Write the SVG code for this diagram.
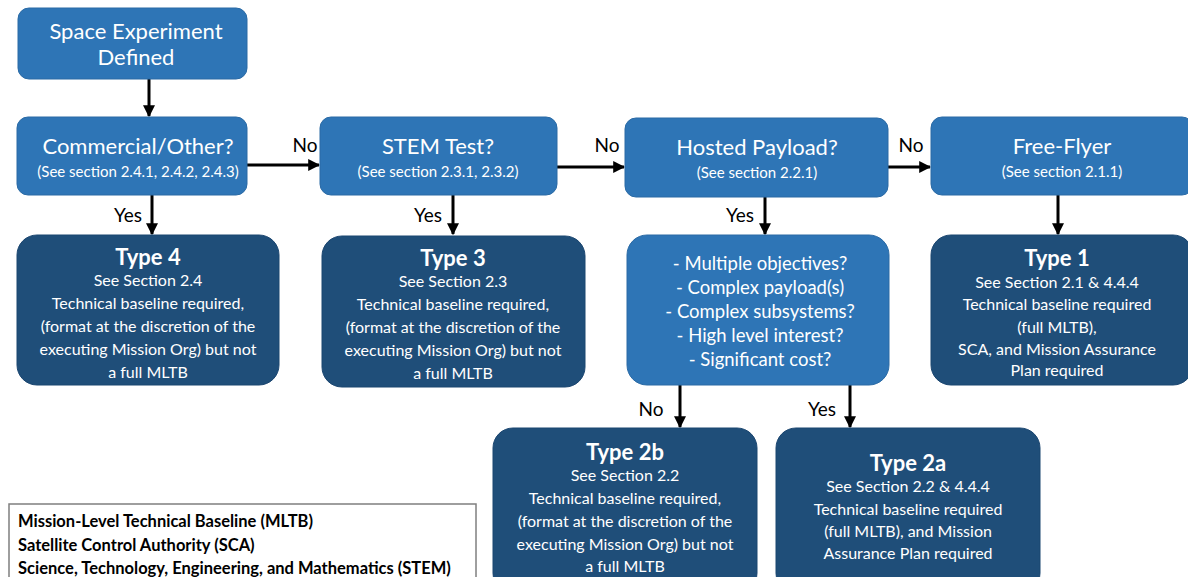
<svg xmlns="http://www.w3.org/2000/svg" width="1188" height="577" viewBox="0 0 1188 577">
<defs>
<marker id="ah" viewBox="0 0 10 10" refX="9" refY="5" markerWidth="4" markerHeight="4" orient="auto" markerUnits="strokeWidth">
<path d="M0,0 L10,5 L0,10 z" fill="#000"/>
</marker>
<style>
.lb{fill:#2E75B6;stroke:#2A6AA5;stroke-width:1}
.db{fill:#1F4E79;stroke:#1B4670;stroke-width:1}
text{font-family:Lato,"Open Sans","Liberation Sans",sans-serif;fill:#fff;text-anchor:middle}
.t1{font-size:22px}
.t2{font-size:15px}
.q{font-size:18.5px}
.h{font-size:22px;font-weight:bold}
.b{font-size:16px}
.lab{font-size:19px;fill:#000}
.leg{font-size:16.5px;font-weight:bold;fill:#000;text-anchor:start}
.c{stroke:#000;stroke-width:3;fill:none;marker-end:url(#ah)}
</style>
</defs>
<rect width="1188" height="577" fill="#fff"/>
<g id="connectors">
<line class="c" x1="149" y1="79" x2="149" y2="116"/>
<line class="c" x1="247" y1="165" x2="319" y2="165"/>
<line class="c" x1="557" y1="167" x2="624" y2="167"/>
<line class="c" x1="888" y1="167" x2="930" y2="167"/>
<line class="c" x1="152" y1="195" x2="152" y2="234"/>
<line class="c" x1="453" y1="195" x2="453" y2="234"/>
<line class="c" x1="765" y1="197" x2="765" y2="234"/>
<line class="c" x1="1058" y1="195" x2="1058" y2="234"/>
<line class="c" x1="680" y1="385" x2="680" y2="427"/>
<line class="c" x1="850" y1="385" x2="850" y2="427"/>
<text class="lab" x="305" y="152">No</text>
<text class="lab" x="607" y="152">No</text>
<text class="lab" x="911" y="152">No</text>
<text class="lab" x="128" y="222">Yes</text>
<text class="lab" x="428" y="222">Yes</text>
<text class="lab" x="740" y="222">Yes</text>
<text class="lab" x="651" y="416">No</text>
<text class="lab" x="822" y="416">Yes</text>
</g>
<g id="start">
<rect class="lb" x="18" y="8" width="229" height="71" rx="11"/>
<text class="t1" x="136" y="39">Space Experiment</text>
<text class="t1" x="136" y="65">Defined</text>
</g>
<g id="commercial">
<rect class="lb" x="17" y="117" width="230" height="78" rx="11"/>
<text class="t1" x="138" y="154">Commercial/Other?</text>
<text class="t2" x="138" y="177">(See section 2.4.1, 2.4.2, 2.4.3)</text>
</g>
<g id="stem">
<rect class="lb" x="320" y="117" width="237" height="78" rx="11"/>
<text class="t1" x="438" y="154">STEM Test?</text>
<text class="t2" x="438" y="177">(See section 2.3.1, 2.3.2)</text>
</g>
<g id="hosted">
<rect class="lb" x="625" y="118" width="263" height="79" rx="11"/>
<text class="t1" x="757" y="155">Hosted Payload?</text>
<text class="t2" x="757" y="178">(See section 2.2.1)</text>
</g>
<g id="freeflyer">
<rect class="lb" x="931" y="117" width="262" height="78" rx="11"/>
<text class="t1" x="1062" y="154">Free-Flyer</text>
<text class="t2" x="1062" y="177">(See section 2.1.1)</text>
</g>
<g id="type4">
<rect class="db" x="17" y="235" width="262" height="150" rx="20"/>
<text class="h" x="148" y="265">Type 4</text>
<text class="b" x="148" y="286">See Section 2.4</text>
<text class="b" x="148" y="309">Technical baseline required,</text>
<text class="b" x="148" y="332">(format at the discretion of the</text>
<text class="b" x="148" y="355">executing Mission Org) but not</text>
<text class="b" x="148" y="378">a full MLTB</text>
</g>
<g id="type3">
<rect class="db" x="322" y="236" width="263" height="151" rx="20"/>
<text class="h" x="453" y="266">Type 3</text>
<text class="b" x="453" y="287">See Section 2.3</text>
<text class="b" x="453" y="310">Technical baseline required,</text>
<text class="b" x="453" y="333">(format at the discretion of the</text>
<text class="b" x="453" y="356">executing Mission Org) but not</text>
<text class="b" x="453" y="379">a full MLTB</text>
</g>
<g id="questions">
<rect class="lb" x="627" y="235" width="262" height="150" rx="20"/>
<text class="q" x="760" y="270">- Multiple objectives?</text>
<text class="q" x="760" y="294">- Complex payload(s)</text>
<text class="q" x="760" y="318">- Complex subsystems?</text>
<text class="q" x="760" y="342">- High level interest?</text>
<text class="q" x="760" y="366">- Significant cost?</text>
</g>
<g id="type1">
<rect class="db" x="931" y="235" width="262" height="150" rx="20"/>
<text class="h" x="1057" y="266">Type 1</text>
<text class="b" x="1057" y="288">See Section 2.1 &amp; 4.4.4</text>
<text class="b" x="1057" y="310">Technical baseline required</text>
<text class="b" x="1057" y="333">(full MLTB),</text>
<text class="b" x="1057" y="355">SCA, and Mission Assurance</text>
<text class="b" x="1057" y="376">Plan required</text>
</g>
<g id="type2b">
<rect class="db" x="493" y="428" width="264" height="165" rx="20"/>
<text class="h" x="625" y="460">Type 2b</text>
<text class="b" x="625" y="481">See Section 2.2</text>
<text class="b" x="625" y="504">Technical baseline required,</text>
<text class="b" x="625" y="527">(format at the discretion of the</text>
<text class="b" x="625" y="550">executing Mission Org) but not</text>
<text class="b" x="625" y="572">a full MLTB</text>
</g>
<g id="type2a">
<rect class="db" x="776" y="428" width="264" height="165" rx="20"/>
<text class="h" x="908" y="471">Type 2a</text>
<text class="b" x="908" y="492">See Section 2.2 &amp; 4.4.4</text>
<text class="b" x="908" y="515">Technical baseline required</text>
<text class="b" x="908" y="537">(full MLTB), and Mission</text>
<text class="b" x="908" y="559">Assurance Plan required</text>
</g>
<g id="legend">
<rect x="9" y="504" width="467" height="80" fill="#fff" stroke="#7F7F7F" stroke-width="1.5"/>
<text class="leg" x="18" y="527">Mission-Level Technical Baseline (MLTB)</text>
<text class="leg" x="18" y="551">Satellite Control Authority (SCA)</text>
<text class="leg" x="18" y="574">Science, Technology, Engineering, and Mathematics (STEM)</text>
</g>
</svg>
